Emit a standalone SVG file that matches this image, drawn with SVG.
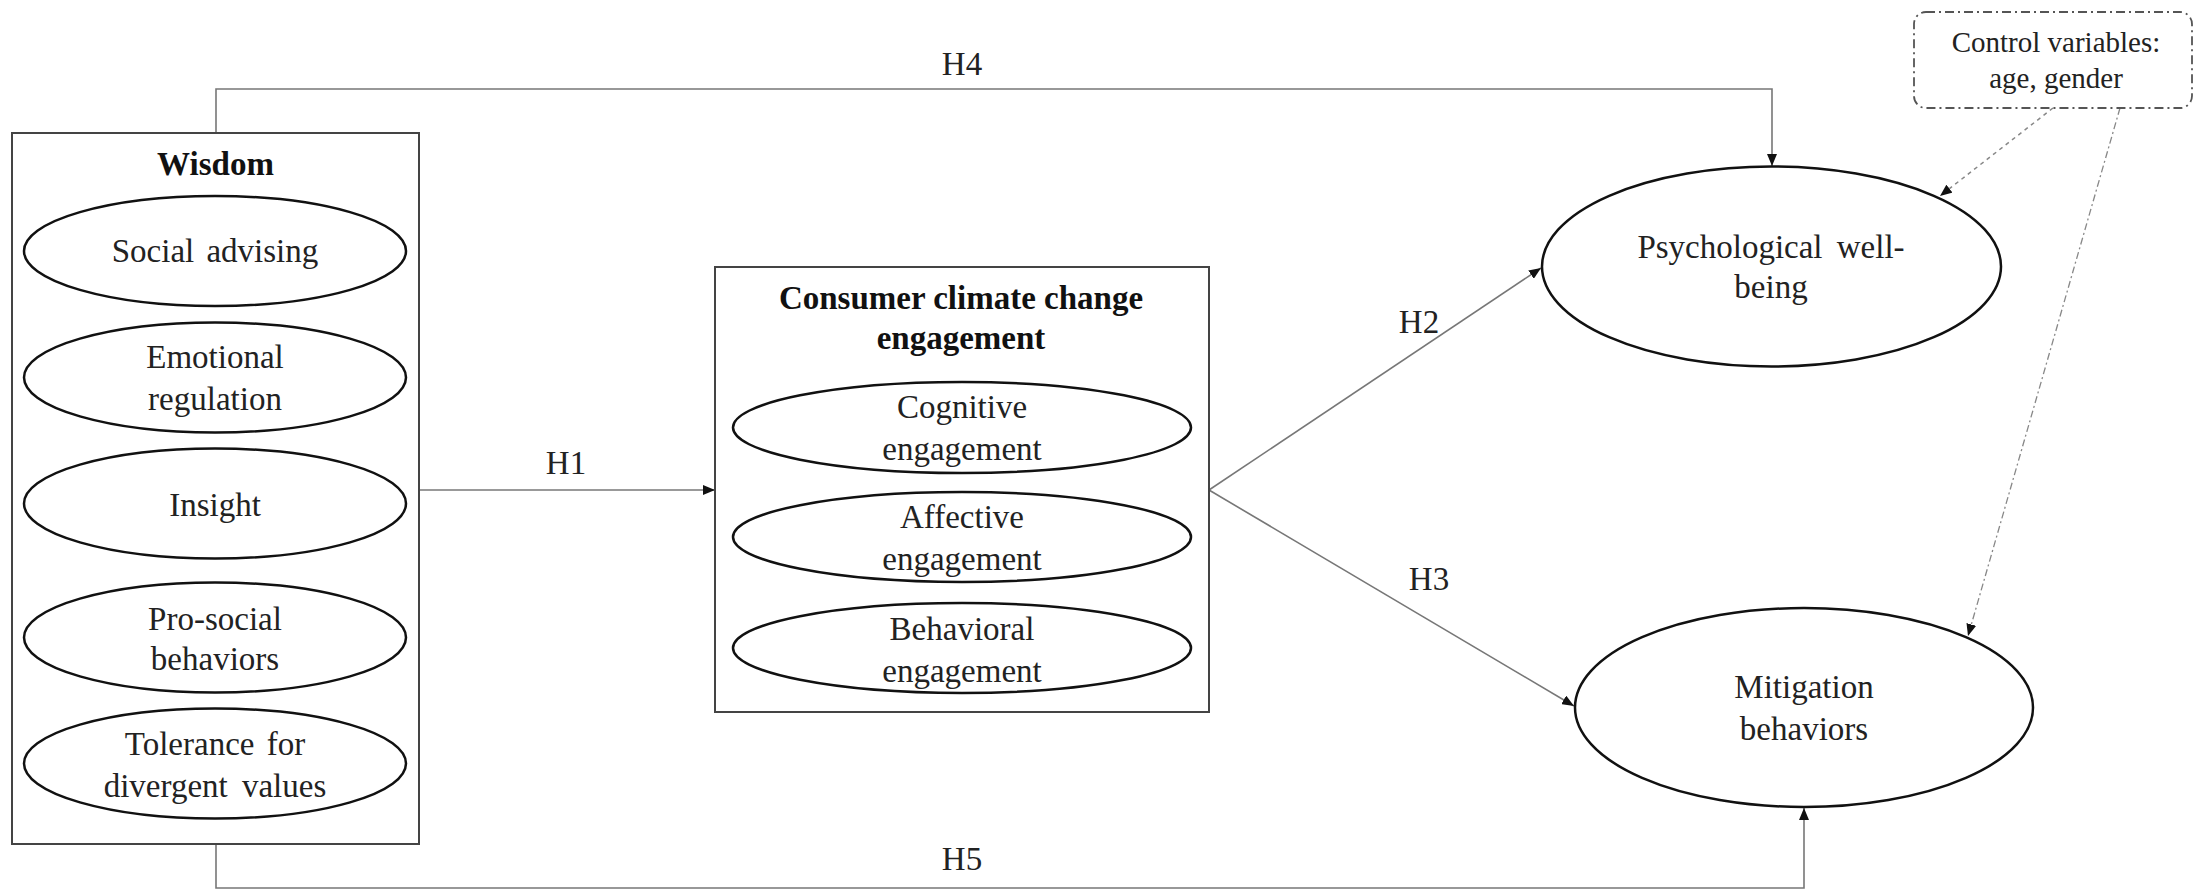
<svg xmlns="http://www.w3.org/2000/svg" width="2204" height="891" viewBox="0 0 2204 891">
<style>
  .t{font-family:"Liberation Serif","Times New Roman",serif;font-size:33px;fill:#222;text-anchor:middle}
  .b{font-weight:bold;fill:#111}
  .ctl{font-size:29px}
  .box{fill:none;stroke:#444;stroke-width:2}
  .ell{fill:#fff;stroke:#111;stroke-width:2.5}
  .con{fill:none;stroke:#777;stroke-width:1.6}
  .dot{fill:none;stroke:#888;stroke-width:1.5;stroke-dasharray:4 4}
  .dash{fill:none;stroke:#888;stroke-width:1.3;stroke-dasharray:7 3 2 3}
</style>
<defs>
  <marker id="ah" viewBox="0 0 12 10" refX="12" refY="5" markerWidth="12" markerHeight="10" markerUnits="userSpaceOnUse" orient="auto">
    <path d="M0,0 L12,5 L0,10 Z" fill="#111"/>
  </marker>
</defs>
<rect width="2204" height="891" fill="#fff"/>

<g id="connectors">
  <path id="H4" class="con" d="M216,133 V89 H1772 V166" marker-end="url(#ah)"/>
  <path id="H5" class="con" d="M216,844 V888 H1804 V808" marker-end="url(#ah)"/>
  <path id="H1" class="con" d="M419,490 H715" marker-end="url(#ah)"/>
  <path id="H2" class="con" d="M1209,490 L1541,268" marker-end="url(#ah)"/>
  <path id="H3" class="con" d="M1209,490 L1574,706" marker-end="url(#ah)"/>
  <path id="C1" class="dot" d="M2053,108 L1940,196" marker-end="url(#ah)"/>
  <path id="C2" class="dash" d="M2120,108 L1968,636" marker-end="url(#ah)"/>
  <text class="t" x="962" y="75">H4</text>
  <text class="t" x="962" y="870">H5</text>
  <text class="t" x="566" y="474">H1</text>
  <text class="t" x="1419" y="333">H2</text>
  <text class="t" x="1429" y="590">H3</text>
</g>

<g id="wisdom">
  <rect class="box" x="12" y="133" width="407" height="711"/>
  <text class="t b" x="215.5" y="175">Wisdom</text>
</g>
<g id="social-advising">
  <ellipse class="ell" cx="215" cy="251" rx="191" ry="55"/>
  <text class="t" x="215" y="262" word-spacing="4">Social advising</text>
</g>
<g id="emotional-regulation">
  <ellipse class="ell" cx="215" cy="377.5" rx="191" ry="55"/>
  <text class="t" x="215" y="368">Emotional</text>
  <text class="t" x="215" y="410">regulation</text>
</g>
<g id="insight">
  <ellipse class="ell" cx="215" cy="503.5" rx="191" ry="55"/>
  <text class="t" x="215" y="516">Insight</text>
</g>
<g id="pro-social">
  <ellipse class="ell" cx="215" cy="637.5" rx="191" ry="55"/>
  <text class="t" x="215" y="630">Pro-social</text>
  <text class="t" x="215" y="670">behaviors</text>
</g>
<g id="tolerance">
  <ellipse class="ell" cx="215" cy="763.5" rx="191" ry="55"/>
  <text class="t" x="215" y="755" word-spacing="4">Tolerance for</text>
  <text class="t" x="215" y="797" word-spacing="6">divergent values</text>
</g>

<g id="engagement">
  <rect class="box" x="715" y="267" width="494" height="445"/>
  <text class="t b" x="961" y="309">Consumer climate change</text>
  <text class="t b" x="961" y="349">engagement</text>
</g>
<g id="cognitive">
  <ellipse class="ell" cx="962" cy="427.5" rx="229" ry="45.5"/>
  <text class="t" x="962" y="418">Cognitive</text>
  <text class="t" x="962" y="460">engagement</text>
</g>
<g id="affective">
  <ellipse class="ell" cx="962" cy="537" rx="229" ry="45"/>
  <text class="t" x="962" y="528">Affective</text>
  <text class="t" x="962" y="570">engagement</text>
</g>
<g id="behavioral">
  <ellipse class="ell" cx="962" cy="648" rx="229" ry="45"/>
  <text class="t" x="962" y="640">Behavioral</text>
  <text class="t" x="962" y="682">engagement</text>
</g>

<g id="psychological-well-being">
  <ellipse class="ell" cx="1771.5" cy="266.5" rx="229.5" ry="100"/>
  <text class="t" x="1771" y="258" word-spacing="6">Psychological well-</text>
  <text class="t" x="1771" y="298">being</text>
</g>
<g id="mitigation-behaviors">
  <ellipse class="ell" cx="1804" cy="707.5" rx="229" ry="99.5"/>
  <text class="t" x="1804" y="698">Mitigation</text>
  <text class="t" x="1804" y="740">behaviors</text>
</g>

<g id="control-variables">
  <rect x="1914" y="12" width="278" height="96" rx="12" ry="12" fill="none" stroke="#555" stroke-width="1.8" stroke-dasharray="9 4 2 4"/>
  <text class="t ctl" x="2056" y="52">Control variables:</text>
  <text class="t ctl" x="2056" y="88">age, gender</text>
</g>
</svg>
